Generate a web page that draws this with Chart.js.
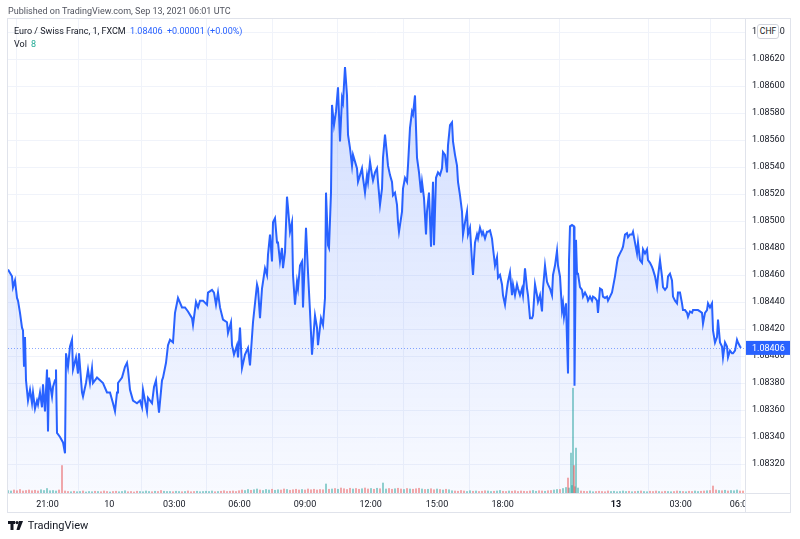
<!DOCTYPE html>
<html><head><meta charset="utf-8">
<script src="https://cdn.jsdelivr.net/npm/chart.js@4.4.1/dist/chart.umd.min.js"></script>
<style>
html,body{margin:0;padding:0;background:#fff;}
#wrap{position:relative;width:800px;height:539px;overflow:hidden;font-family:Roboto,"Liberation Sans",sans-serif;}
#c{position:absolute;left:0;top:0;}
.t{position:absolute;white-space:nowrap;font-size:9px;line-height:12px;z-index:2;}
#chf{position:absolute;left:757px;top:24px;width:20px;height:13px;line-height:13px;text-align:center;font-size:8.5px;color:#131722;background:#fff;border:1px solid #d1d4dc;border-radius:3px;z-index:3;}
</style></head><body>
<div id="wrap">
<canvas id="c" width="800" height="539"></canvas>
<div class="t" style="left:8px;top:5px;color:#50535e">Published on TradingView.com, Sep 13, 2021 06:01 UTC</div>
<div class="t" style="left:14px;top:25px;color:#131722">Euro / Swiss Franc, 1, FXCM <span style="color:#2962ff;margin-left:2px">1.08406</span> <span style="color:#2962ff;margin-left:2px">+0.00001 (+0.00%)</span></div>
<div class="t" style="left:14px;top:38px;color:#131722">Vol <span style="color:#22ab94;margin-left:2px">8</span></div>
<div id="chf">CHF</div>
<div class="t" style="left:8px;top:519px;color:#131722;font-size:11px;line-height:14px;">
<svg width="15" height="9" viewBox="0 0 15 9" style="vertical-align:-1px"><rect x="0" y="0" width="7" height="3" fill="#131722"/><rect x="2.5" y="0" width="3" height="9" fill="#131722"/><circle cx="9" cy="1.6" r="1.6" fill="#131722"/><polygon points="11,0 15,0 11.5,9 8.5,9" fill="#131722"/></svg>
<span style="margin-left:2px">TradingView</span></div>
</div>
<script>
const slots = [
0,4,5,7,9,10,12,14,15,16,
17,18,20,22,24,25,27,29,30,32,
34,35,37,39,40,41,44,45,47,48,
49,52,55,57,58,60,62,64,65,68,
70,71,74,75,78,80,82,84,85,89,
92,95,99,102,105,107,109,110,114,117,
119,120,122,125,129,132,134,135,139,140,
144,146,148,149,151,154,155,158,160,162,
165,167,170,174,177,180,184,185,188,190,
192,195,199,200,204,206,208,210,212,215,
219,220,223,224,226,229,230,232,234,237,
240,242,245,249,250,252,254,257,259,260,
262,264,265,267,269,270,272,274,275,277,
279,280,282,284,285,287,289,290,292,294,
295,298,300,302,304,307,309,310,313,315,
317,318,320,321,323,324,326,328,330,332,
334,335,337,339,340,342,344,345,347,349,
350,352,354,355,357,359,360,362,364,365,
367,369,370,372,374,375,377,379,380,382,
384,385,387,389,390,391,394,395,397,399,
400,402,404,405,407,408,409,411,413,414,
416,418,419,421,423,425,426,428,430,432,
434,435,437,439,440,442,444,445,447,449,
450,452,454,455,457,459,460,462,464,465,
467,469,470,472,474,475,477,479,480,482,
484,485,487,489,490,492,494,495,497,499,
500,502,504,505,507,509,510,512,514,515,
517,519,520,522,524,525,527,529,530,532,
534,535,537,539,540,542,544,545,547,549,
550,552,554,555,556,558,559,560,561,562,
564,566,566.5,568,569,570,572,574,575,577,
579,580,582,584,585,587,589,590,592,594,
595,597,599,600,602,604,605,607,609,610,
612,614,615,617,619,620,622,624,625,627,
629,630,632,634,635,637,639,640,642,644,
645,647,649,650,652,654,655,657,659,660,
662,664,665,667,669,670,672,674,675,677,
679,680,682,684,685,687,689,690,692,694,
695,697,699,700,702,704,705,707,709,710,
712,714,715,717,719,720,722,724,725,727,
729,730,732,733
];
const prices = [
1.08464,1.08459,1.08451,1.08456,1.08443,1.08441,1.08432,1.08421,1.08419,1.08392,
1.08414,1.08382,1.08367,1.08375,1.08365,1.08373,1.08361,1.08367,1.08364,1.08373,
1.08362,1.08379,1.08359,1.08390,1.08344,1.08384,1.08370,1.08377,1.08382,1.08390,
1.08343,1.08340,1.08336,1.08328,1.08402,1.08392,1.08407,1.08412,1.08390,1.08399,
1.08387,1.08402,1.08373,1.08370,1.08380,1.08390,1.08380,1.08391,1.08380,1.08384,
1.08382,1.08380,1.08373,1.08373,1.08365,1.08359,1.08373,1.08380,1.08384,1.08392,
1.08395,1.08390,1.08375,1.08367,1.08365,1.08367,1.08362,1.08375,1.08359,1.08369,
1.08365,1.08377,1.08382,1.08373,1.08358,1.08382,1.08384,1.08395,1.08408,1.08412,
1.08410,1.08432,1.08443,1.08436,1.08436,1.08433,1.08428,1.08423,1.08440,1.08436,
1.08441,1.08441,1.08438,1.08447,1.08449,1.08447,1.08438,1.08447,1.08436,1.08427,
1.08425,1.08417,1.08425,1.08408,1.08401,1.08408,1.08399,1.08421,1.08391,1.08401,
1.08406,1.08393,1.08425,1.08453,1.08450,1.08428,1.08450,1.08465,1.08460,1.08475,
1.08490,1.08470,1.08499,1.08502,1.08484,1.08484,1.08470,1.08480,1.08465,1.08477,
1.08518,1.08510,1.08492,1.08499,1.08460,1.08438,1.08455,1.08450,1.08467,1.08470,
1.08436,1.08495,1.08462,1.08433,1.08401,1.08430,1.08421,1.08408,1.08428,1.08423,
1.08443,1.08521,1.08482,1.08480,1.08521,1.08586,1.08571,1.08581,1.08599,1.08559,
1.08591,1.08588,1.08614,1.08593,1.08564,1.08554,1.08541,1.08549,1.08544,1.08539,
1.08529,1.08534,1.08539,1.08532,1.08521,1.08534,1.08529,1.08544,1.08534,1.08530,
1.08536,1.08539,1.08529,1.08512,1.08524,1.08547,1.08564,1.08549,1.08541,1.08534,
1.08529,1.08519,1.08521,1.08512,1.08499,1.08492,1.08507,1.08524,1.08532,1.08529,
1.08541,1.08569,1.08581,1.08579,1.08593,1.08569,1.08547,1.08536,1.08521,1.08529,
1.08517,1.08490,1.08507,1.08521,1.08481,1.08529,1.08482,1.08532,1.08536,1.08534,
1.08539,1.08551,1.08549,1.08536,1.08556,1.08571,1.08573,1.08559,1.08549,1.08541,
1.08529,1.08519,1.08507,1.08490,1.08499,1.08507,1.08490,1.08495,1.08470,1.08460,
1.08484,1.08490,1.08487,1.08495,1.08490,1.08492,1.08487,1.08492,1.08492,1.08493,
1.08487,1.08480,1.08467,1.08473,1.08458,1.08460,1.08453,1.08445,1.08438,1.08450,
1.08455,1.08462,1.08445,1.08453,1.08445,1.08453,1.08450,1.08445,1.08450,1.08445,
1.08465,1.08450,1.08445,1.08428,1.08428,1.08430,1.08453,1.08445,1.08440,1.08445,
1.08433,1.08450,1.08467,1.08455,1.08453,1.08450,1.08445,1.08460,1.08467,1.08478,
1.08467,1.08459,1.08434,1.08439,1.08429,1.08439,1.08412,1.08387,1.08471,1.08496,
1.08497,1.08496,1.08378,1.08486,1.08461,1.08461,1.08451,1.08449,1.08444,1.08447,
1.08444,1.08441,1.08444,1.08441,1.08444,1.08443,1.08441,1.08432,1.08450,1.08449,
1.08444,1.08443,1.08444,1.08441,1.08444,1.08447,1.08451,1.08459,1.08469,1.08473,
1.08476,1.08479,1.08481,1.08490,1.08491,1.08488,1.08490,1.08490,1.08492,1.08484,
1.08476,1.08484,1.08471,1.08469,1.08479,1.08476,1.08479,1.08471,1.08469,1.08466,
1.08464,1.08459,1.08451,1.08459,1.08471,1.08459,1.08451,1.08449,1.08451,1.08459,
1.08461,1.08456,1.08444,1.08441,1.08439,1.08447,1.08447,1.08439,1.08434,1.08434,
1.08432,1.08429,1.08433,1.08432,1.08434,1.08434,1.08434,1.08434,1.08433,1.08432,
1.08424,1.08432,1.08434,1.08439,1.08436,1.08439,1.08419,1.08410,1.08414,1.08427,
1.08410,1.08407,1.08399,1.08410,1.08407,1.08399,1.08404,1.08402,1.08402,1.08404,
1.08412,1.08410,1.08407,1.08406
];
// volume on a regular grid, one bar every 3 slots
const volumes = [
10,8,12,9,14,8,10,12,9,11,8,13,10,
18,
9,10,8,12,
110,
8,6,5,7,5,6,8,4,6,5,7,6,5,8,6,4,6,7,5,6,9,5,6,4,7,6,5,8,6,5,7,6,10,7,6,
6,5,7,6,5,6,8,5,6,7,5,6,7,6,8,5,6,7,9,6,7,8,6,9,
12,10,14,11,13,16,12,10,14,12,15,11,13,12,16,14,11,13,15,12,
14,12,16,13,15,12,14,13,36,15,
16,18,15,20,17,14,19,16,18,15,17,20,16,18,15,19,17,40,16,18,
15,17,19,16,14,18,16,15,17,19,16,14,15,17,13,16,14,12,15,13,
9,8,7,10,8,6,9,7,8,6,7,9,8,6,7,8,10,7,6,8,7,9,6,8,7,6,8,10,7,9,8,7,9,10,12,14,
14,18,22,
20,30,25,
20,
8,7,6,8,5,6,7,6,5,8,6,7,5,6,8,6,7,5,6,7,
8,6,5,7,6,8,6,5,7,6,5,6,8,7,6,5,7,6,8,6,
7,8,9,10,28,12,10,9,11,8,10,9,12,8,8
];
const volStep = 3;
const spikeSlots = [560,563,565,566,568];
const spikeVolumes = [60,160,420,110,180];
const tickSlots = [39.5,101.3,166.3,231.5,297,362.7,429,494.7,608,672.7,733];
const tickLabels = ['21:00','10','03:00','06:00','09:00','12:00','15:00','18:00','13','03:00','06:00'];
const priceTicks = [1.0832,1.0834,1.0836,1.0838,1.0840,1.0842,1.0844,1.0846,1.0848,1.0850,1.0852,1.0854,1.0856,1.0858,1.0860,1.0862,1.0864];
const lastPrice = 1.08406;

const pricePts = slots.map((s,i)=>({x:s,y:prices[i]}));
function dirAt(s){
  let k=0; while(k<slots.length-1 && slots[k+1]<=s) k++;
  return k===0 ? true : prices[k] >= prices[k-1];
}
const volPts = volumes.map((v,i)=>({x:i*volStep,y:v}));
spikeSlots.forEach((s,i)=>volPts.push({x:s,y:spikeVolumes[i]}));
const volColors = volPts.map(p=> dirAt(p.x) ? 'rgba(38,166,154,0.5)' : 'rgba(239,83,80,0.5)');
const FONT = 'Roboto, "Liberation Sans", sans-serif';
const frame = {
  id:'frame',
  beforeDatasetsDraw(chart){
    const {ctx, chartArea:a, scales:{y}} = chart;
    const py = Math.round(y.getPixelForValue(lastPrice))+0.5;
    ctx.save();
    ctx.strokeStyle='rgba(41,98,255,0.55)'; ctx.lineWidth=1; ctx.setLineDash([1,2]);
    ctx.beginPath(); ctx.moveTo(a.left,py); ctx.lineTo(a.right,py); ctx.stroke();
    ctx.restore();
  },
  afterDraw(chart){
    const {ctx, chartArea:a, scales:{y}} = chart;
    ctx.save();
    ctx.fillStyle='#fff';
    ctx.fillRect(a.right+1, a.bottom+1, 46, 19);
    ctx.strokeStyle='#e0e3eb'; ctx.lineWidth=1;
    ctx.strokeRect(7.5,18.5,783,494);
    ctx.beginPath();
    ctx.moveTo(a.right+0.5,18.5); ctx.lineTo(a.right+0.5,512.5);
    ctx.moveTo(7.5,a.bottom+0.5); ctx.lineTo(790.5,a.bottom+0.5);
    ctx.stroke();
    const py = y.getPixelForValue(lastPrice);
    ctx.fillStyle='#2962ff';
    ctx.fillRect(a.right+1, py-7, 790-a.right-1, 14);
    ctx.fillStyle='#fff'; ctx.font='9px '+FONT; ctx.textBaseline='middle'; ctx.textAlign='left';
    ctx.fillText(lastPrice.toFixed(5), a.right+7, py+0.5);
    ctx.restore();
  }
};
new Chart(document.getElementById('c'), {
  data:{datasets:[
    {type:'line', data:pricePts, order:0, borderColor:'#2962ff', borderWidth:2, pointRadius:0, tension:0, fill:'start',
     backgroundColor:(ctx)=>{const ch=ctx.chart, a=ch.chartArea; if(!a) return 'rgba(41,98,255,0.1)';
       const g=ch.ctx.createLinearGradient(0,a.top+40,0,a.bottom); g.addColorStop(0,'rgba(41,98,255,0.22)'); g.addColorStop(1,'rgba(41,98,255,0.03)'); return g;},
     yAxisID:'y'},
    {type:'bar', data:volPts, order:1, backgroundColor:volColors, barThickness:1.4, yAxisID:'yv'}
  ]},
  options:{
    responsive:false, animation:false, devicePixelRatio:1,
    layout:{padding:{left:8,top:19,right:10,bottom:26}},
    plugins:{legend:{display:false}, tooltip:{enabled:false}},
    scales:{
      x:{type:'linear', min:0, max:737, offset:false,
         afterBuildTicks:(s)=>{s.ticks=tickSlots.map(v=>({value:v}));},
         afterFit:(s)=>{s.height=20;},
         grid:{color:'#f0f3fa', drawTicks:false}, border:{display:false},
         ticks:{autoSkip:false, maxRotation:0, padding:6, color:'#131722',
           font:(c)=>({family:FONT, size:9, weight: (c.tick && c.tick.label==='13') ? 'bold':'normal'}),
           callback:(v,i)=>tickLabels[i]}},
      y:{type:'linear', position:'right', min:1.0829852, max:1.0864963,
         afterBuildTicks:(s)=>{s.ticks=priceTicks.map(v=>({value:v}));},
         afterFit:(s)=>{s.width=45;},
         grid:{color:'#f0f3fa', drawTicks:false}, border:{display:false},
         ticks:{padding:7, color:'#131722', font:{family:FONT, size:9}, callback:(v)=>Number(v).toFixed(5)}},
      yv:{type:'linear', display:false, min:0, max:1900}
    }
  },
  plugins:[frame]
});
</script>
</body></html>
